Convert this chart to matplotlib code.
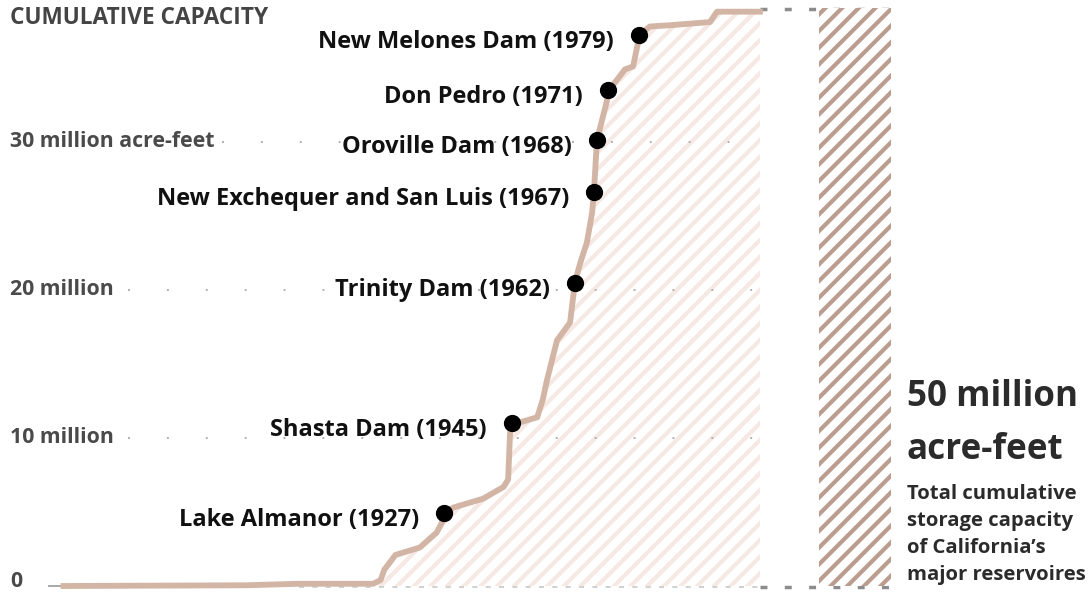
import matplotlib.pyplot as plt
from matplotlib.transforms import blended_transform_factory

# Courbe de capacite cumulee (millions d'acre-feet)
years = [1825, 1874, 1888, 1908, 1910, 1911, 1914, 1920.5, 1925, 1926.5, 1927,
         1929.5, 1937.5, 1943, 1944.2, 1944.7, 1945.2, 1948, 1952, 1953.5, 1954.6,
         1957.3, 1960.8, 1962.1, 1963.5, 1965.3, 1966.7, 1967.2, 1968, 1970.7,
         1971, 1973.4, 1975.5, 1977.7, 1979, 1979.3, 1982.2, 1988.4, 1998.3,
         2000.2, 2011.7]
capacity = [0, 0.05, 0.15, 0.15, 0.4, 1.1, 2.1, 2.6, 3.6, 4.3, 4.9,
            5.3, 5.9, 6.7, 7.2, 10.3, 11.0, 11.1, 11.4, 12.6, 13.9,
            16.6, 17.8, 20.5, 21.8, 23.2, 25.2, 26.6, 30.1, 32.8,
            33.5, 34.2, 34.9, 35.1, 36.7, 37.2, 37.8, 37.9, 38.1,
            38.8, 38.8]

# Barrages annotes
dams = ["Lake Almanor (1927)", "Shasta Dam (1945)", "Trinity Dam (1962)",
        "New Exchequer and San Luis (1967)", "Oroville Dam (1968)",
        "Don Pedro (1971)", "New Melones Dam (1979)"]
dam_years = [1927, 1945.2, 1962.1, 1967.2, 1968, 1971, 1979.3]
dam_caps = [4.9, 11.0, 20.5, 26.6, 30.1, 33.5, 37.2]

# Graduations
tick_values = [0, 10, 20, 30]
tick_labels = ["0", "10 million", "20 million", "30 million acre-feet"]

total_capacity = 50

line_col = "#d3b5a5"
plt.rcParams['hatch.linewidth'] = 3.0
plt.rcParams['font.family'] = ['Open Sans', 'DejaVu Sans']

fig = plt.figure(figsize=(10.91, 5.92), dpi=100)
ax = fig.add_axes([0, 0, 1, 1])
ax.set_xlim(1807.97, 2100.46)
ax.set_ylim(-0.405, 39.59)
ax.axis('off')

# zone hachuree sous la courbe
ax.fill_between(years, 0, capacity, facecolor='white', edgecolor='#f6e8e3',
                hatch='//', linewidth=0, zorder=1)

# grille pointillee
grid_start = [1842.3, 1842.3, 1867.5]
for v, xs in zip(tick_values[1:], grid_start):
    ax.hlines(v, xs, 2011.7, color='#b0b0b0', linewidth=1.4,
              linestyle=(0, (1, 19)), zorder=2)

# ligne de base
ax.hlines(0, 1820.8, 1826, color='#9a9a9a', linewidth=1.2, zorder=2)
ax.hlines(-0.1, 1888, 2011.7, color='#c8c8c8', linewidth=1.2,
          linestyle=(0, (3, 5)), zorder=2)
ax.hlines(-0.1, 2011.7, 2046.8, color='#8c8c8c', linewidth=2.5,
          linestyle=(0, (2, 5)), zorder=2)
ax.hlines(39.0, 2011.7, 2046.8, color='#8c8c8c', linewidth=2.5,
          linestyle=(0, (2, 5)), zorder=2)

ax.plot(years, capacity, color=line_col, linewidth=4.2,
        solid_joinstyle='round', zorder=3)
ax.scatter(dam_years, dam_caps, s=130, color='black', zorder=4)

for name, x, y in zip(dams, dam_years, dam_caps):
    ax.annotate(name, (x, y), xytext=(-18, -5), textcoords='offset points',
                ha='right', va='center', fontsize=17, fontweight='bold',
                color='#111111', zorder=5)

# etiquettes de l'axe
trans = blended_transform_factory(ax.transAxes, ax.transData)
for v, lab in zip(tick_values[1:], tick_labels[1:]):
    ax.text(0.0092, v, lab, transform=trans, ha='left', va='center',
            fontsize=15.3, fontweight='bold', color='#4a4a4a')
ax.text(0.0092, -0.405, tick_labels[0], transform=trans, ha='left',
        va='bottom', fontsize=15.3, fontweight='bold', color='#4a4a4a')

fig.text(0.0092, 1 - 18 / 592, "CUMULATIVE CAPACITY", ha='left', va='center',
         fontsize=16.3, fontweight='bold', color='#444444')

# barre du total (50 millions)
ax2 = ax.twinx()
ax2.set_position([0, 0, 1, 1])
ax2.set_ylim(-0.519, 50.69)
ax2.axis('off')
ax2.bar(2037.15, total_capacity, width=19.3, bottom=0, facecolor='white',
        edgecolor='#bb9d8f', hatch='//', linewidth=0, zorder=1)

fig.text(907 / 1091, 1 - 397 / 592, "50 million", ha='left', va='center',
         fontsize=25.2, fontweight='bold', color='#2b2b2b')
fig.text(907 / 1091, 1 - 450 / 592, "acre-feet", ha='left', va='center',
         fontsize=25.2, fontweight='bold', color='#2b2b2b')
sub = ["Total cumulative", "storage capacity", "of California\u2019s",
       "major reservoires"]
for i, s in enumerate(sub):
    fig.text(907 / 1091, 1 - (494 + 27 * i) / 592, s, ha='left', va='center',
             fontsize=14.6, fontweight='bold', color='#2b2b2b')

plt.savefig("out.png", dpi=100)
